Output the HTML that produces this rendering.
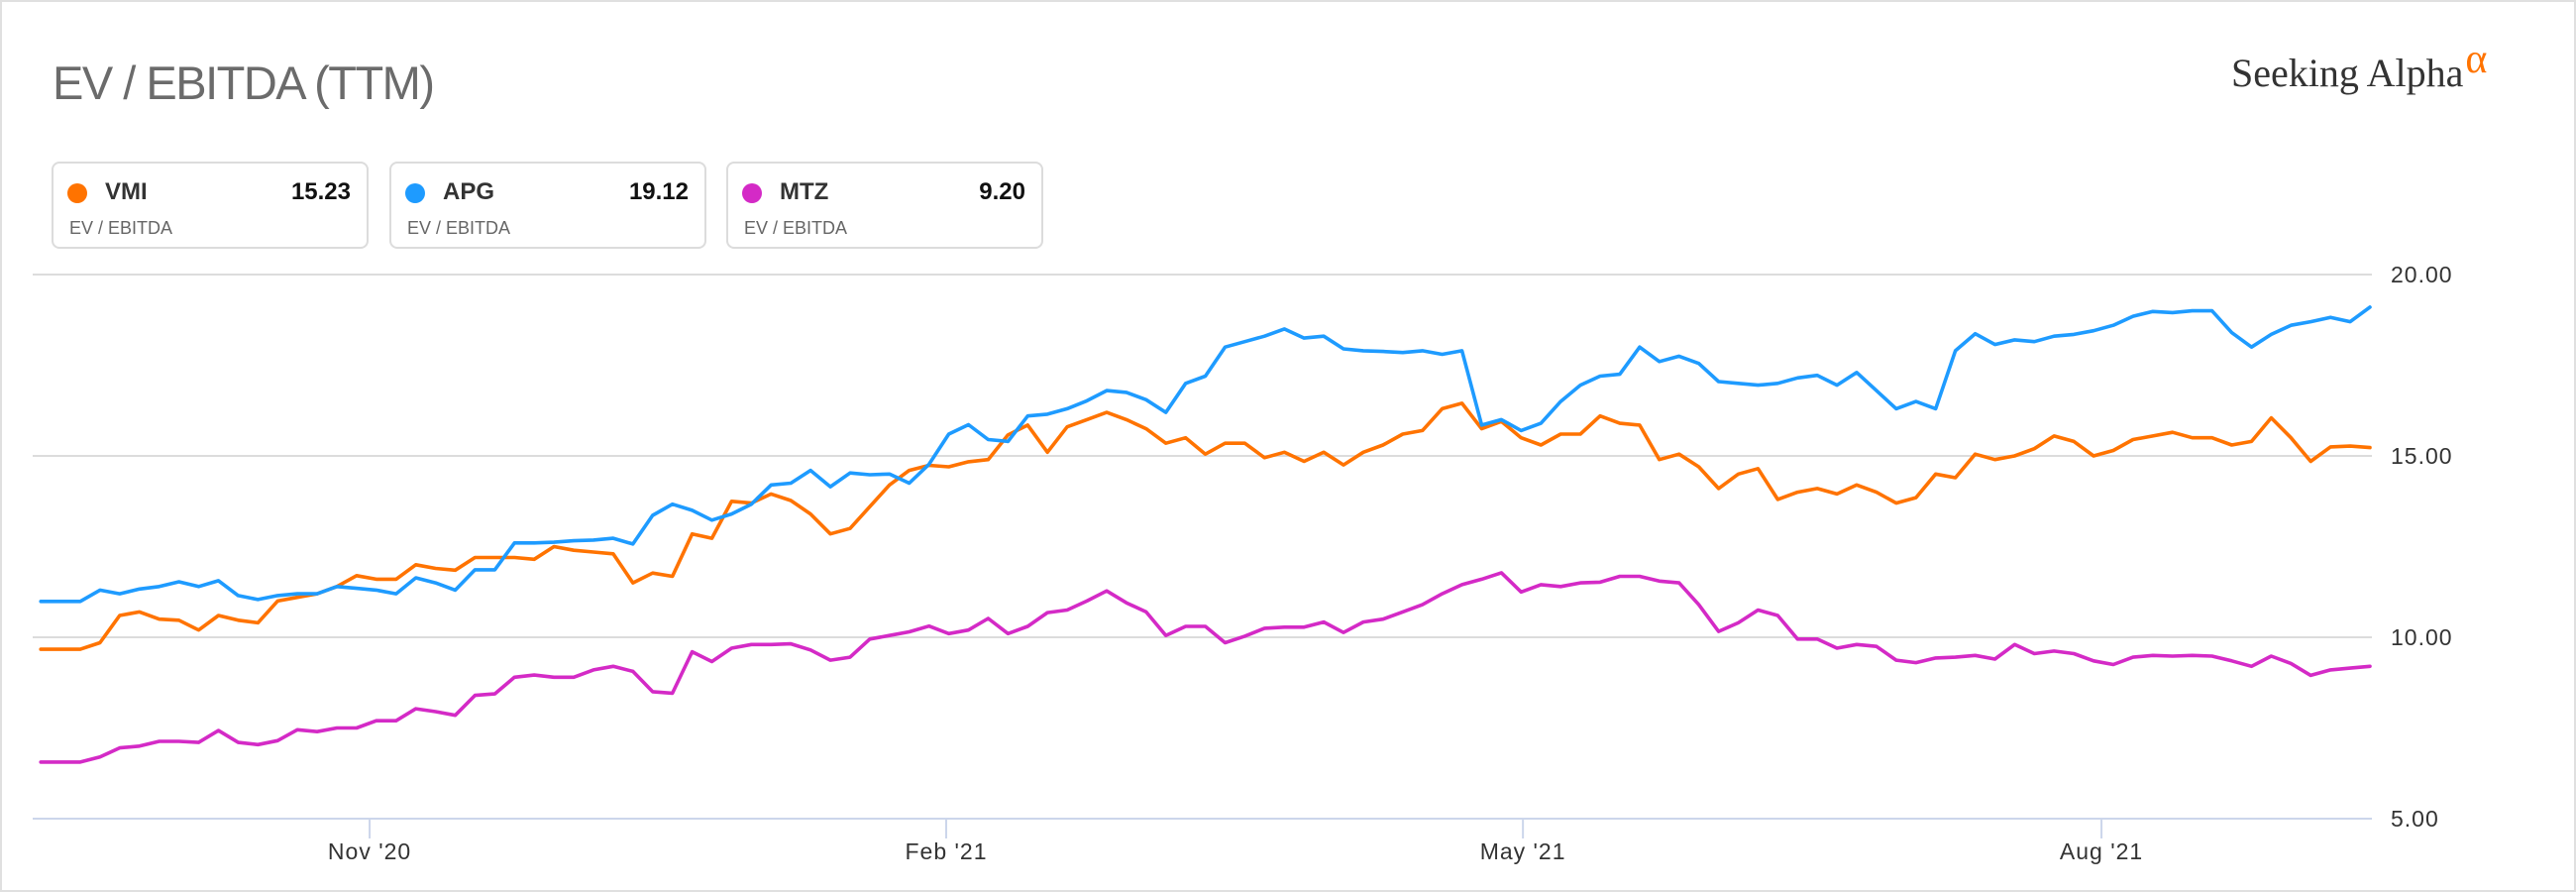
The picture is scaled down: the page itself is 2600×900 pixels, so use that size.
<!DOCTYPE html>
<html><head><meta charset="utf-8"><style>
html,body{margin:0;padding:0;background:#fff}
#wrap{position:relative;width:2600px;height:900px;overflow:hidden;font-family:"Liberation Sans",sans-serif;box-sizing:border-box;border:2px solid #e0e0e0;}
.title{position:absolute;left:51px;top:54px;font-size:47px;color:#6b6b6b;letter-spacing:-1.5px}
.logo{position:absolute;left:2250px;top:48px;font-family:"Liberation Serif",serif;font-size:40px;color:#333}
.logo .a{color:#ff7300;font-size:42px;position:relative;top:-14px;margin-left:2px}
.card{position:absolute;top:161px;width:320px;height:88px;border:2px solid #dcdcdc;border-radius:8px;box-sizing:border-box}
.dot{position:absolute;left:14px;top:20px;width:20px;height:20px;border-radius:50%}
.tk{position:absolute;left:52px;top:15px;font-size:24px;font-weight:bold;color:#333}
.val{position:absolute;right:16px;top:15px;font-size:24px;font-weight:bold;color:#111}
.sub{position:absolute;left:16px;top:55px;font-size:18px;color:#666}
</style></head><body>
<div id="wrap">
<div class="title">EV / EBITDA (TTM)</div>
<div class="logo">Seeking Alpha<span class="a">α</span></div>
<div class="card" style="left:50px"><div class="dot" style="background:#ff7300"></div><div class="tk">VMI</div><div class="val">15.23</div><div class="sub">EV / EBITDA</div></div>
<div class="card" style="left:391px"><div class="dot" style="background:#1e9bff"></div><div class="tk">APG</div><div class="val">19.12</div><div class="sub">EV / EBITDA</div></div>
<div class="card" style="left:731px"><div class="dot" style="background:#d42ac6"></div><div class="tk">MTZ</div><div class="val">9.20</div><div class="sub">EV / EBITDA</div></div>
<svg id="plot" width="2600" height="900" style="position:absolute;left:-2px;top:-2px"></svg>
</div>
<script>
const yTicks=[5,10,15,20];
const yTickLabels=["5.00","10.00","15.00","20.00"];
const xTickIdx=[16.66,45.87,75.09,104.4];
const xTickLabels=["Nov '20","Feb '21","May '21","Aug '21"];
const vmi=[9.67,9.67,9.67,9.85,10.6,10.7,10.5,10.47,10.2,10.6,10.47,10.4,11.0,11.1,11.2,11.4,11.7,11.6,11.6,12.0,11.9,11.85,12.2,12.2,12.2,12.15,12.5,12.4,12.35,12.3,
11.5,11.77,11.68,12.85,12.73,13.75,13.7,13.95,13.77,13.4,12.85,13.0,13.6,14.2,14.6,14.74,14.7,14.84,14.9,15.58,15.85,15.1,15.8,16.0,16.2,16.0,15.75,15.35,15.5,
15.05,15.35,15.35,14.95,15.1,14.85,15.1,14.75,15.1,15.3,15.6,15.7,16.3,16.45,15.75,15.95,15.5,15.3,15.6,15.6,16.1,15.9,15.85,14.9,15.05,14.7,14.1,14.5,14.65,
13.8,14.0,14.1,13.95,14.2,14.0,13.7,13.85,14.5,14.4,15.05,14.9,15.0,15.2,15.55,15.4,15.0,15.15,15.45,15.55,15.65,15.5,15.5,15.3,15.4,16.05,15.5,14.85,15.25,15.27,15.23];
const apg=[10.99,10.99,10.99,11.3,11.2,11.33,11.4,11.53,11.4,11.56,11.15,11.04,11.15,11.2,11.2,11.4,11.35,11.3,11.2,11.64,11.5,11.3,11.86,11.86,12.6,12.6,12.62,12.66,12.68,12.73,
12.57,13.36,13.67,13.5,13.23,13.4,13.67,14.2,14.25,14.6,14.15,14.53,14.48,14.5,14.25,14.77,15.6,15.86,15.45,15.4,16.1,16.15,16.3,16.52,16.8,16.75,16.55,16.2,17.0,
17.2,18.0,18.15,18.3,18.5,18.25,18.3,17.95,17.9,17.88,17.85,17.9,17.8,17.9,15.85,16.0,15.7,15.9,16.5,16.95,17.2,17.25,18.0,17.6,17.75,17.55,17.05,17.0,16.95,
17.0,17.15,17.22,16.95,17.3,16.8,16.3,16.5,16.3,17.9,18.37,18.07,18.2,18.15,18.3,18.35,18.45,18.6,18.85,18.98,18.95,19.0,19.0,18.4,18.0,18.35,18.6,18.7,18.82,18.7,19.1];
const mtz=[6.56,6.56,6.56,6.7,6.95,7.0,7.13,7.13,7.1,7.43,7.1,7.04,7.15,7.45,7.4,7.5,7.5,7.7,7.7,8.03,7.95,7.85,8.4,8.44,8.9,8.96,8.9,8.9,9.1,9.2,
9.06,8.5,8.46,9.6,9.33,9.7,9.8,9.8,9.82,9.65,9.37,9.45,9.95,10.05,10.15,10.31,10.1,10.2,10.52,10.1,10.3,10.68,10.75,11.0,11.28,10.95,10.7,10.05,10.3,
10.3,9.85,10.03,10.25,10.28,10.28,10.42,10.13,10.42,10.5,10.7,10.9,11.2,11.45,11.6,11.78,11.25,11.45,11.4,11.5,11.52,11.68,11.68,11.55,11.5,10.9,10.16,10.4,10.75,
10.6,9.95,9.95,9.7,9.8,9.75,9.37,9.3,9.43,9.45,9.5,9.4,9.8,9.55,9.62,9.55,9.35,9.25,9.45,9.5,9.48,9.5,9.48,9.35,9.2,9.48,9.28,8.95,9.1,9.15,9.2];
const svg=document.getElementById('plot');
const NS='http://www.w3.org/2000/svg';
const X1=2392,GL=33,GR=2394;
const n=vmi.length;
const STEP=(2392-81)/116;
const X0=X1-STEP*(n-1);
function xs(i){return X0+i*STEP;}
function ys(v){return 277+(20-v)*36.6;}
function mk(t,a){const e=document.createElementNS(NS,t);for(const k in a)e.setAttribute(k,a[k]);svg.appendChild(e);return e;}
yTicks.forEach((v,k)=>{
  const l=mk('line',{x1:GL,x2:GR,y1:ys(v),y2:ys(v),stroke:v===5?'#ccd6eb':'#dcdcdc','stroke-width':2});
  
  
  const t=mk('text',{x:2413,y:ys(v)+8,'font-size':23,fill:'#333','font-family':'Liberation Sans, sans-serif','letter-spacing':'1'});
  t.textContent=yTickLabels[k];
  
  
});
xTickIdx.forEach((ix,k)=>{
  const x=xs(ix);
  const l=mk('line',{x1:x,x2:x,y1:ys(5),y2:ys(5)+20,stroke:'#ccd6eb','stroke-width':2});
  
  
  const t=mk('text',{x:x,y:867,'font-size':23,fill:'#333','text-anchor':'middle','font-family':'Liberation Sans, sans-serif','letter-spacing':'1'});
  t.textContent=xTickLabels[k];
  
  
});
function series(arr,color,name){
  const d=arr.map((v,i)=>(i?'L':'M')+xs(i).toFixed(1)+' '+ys(v).toFixed(1)).join(' ');
  const p=mk('path',{d:d,fill:'none',stroke:color,'stroke-width':3.6,'stroke-linejoin':'round','stroke-linecap':'round'});
  
  
}
series(mtz,'#d42ac6','line-mtz');
series(vmi,'#ff7300','line-vmi');
series(apg,'#1e9bff','line-apg');
</script>
</body></html>
